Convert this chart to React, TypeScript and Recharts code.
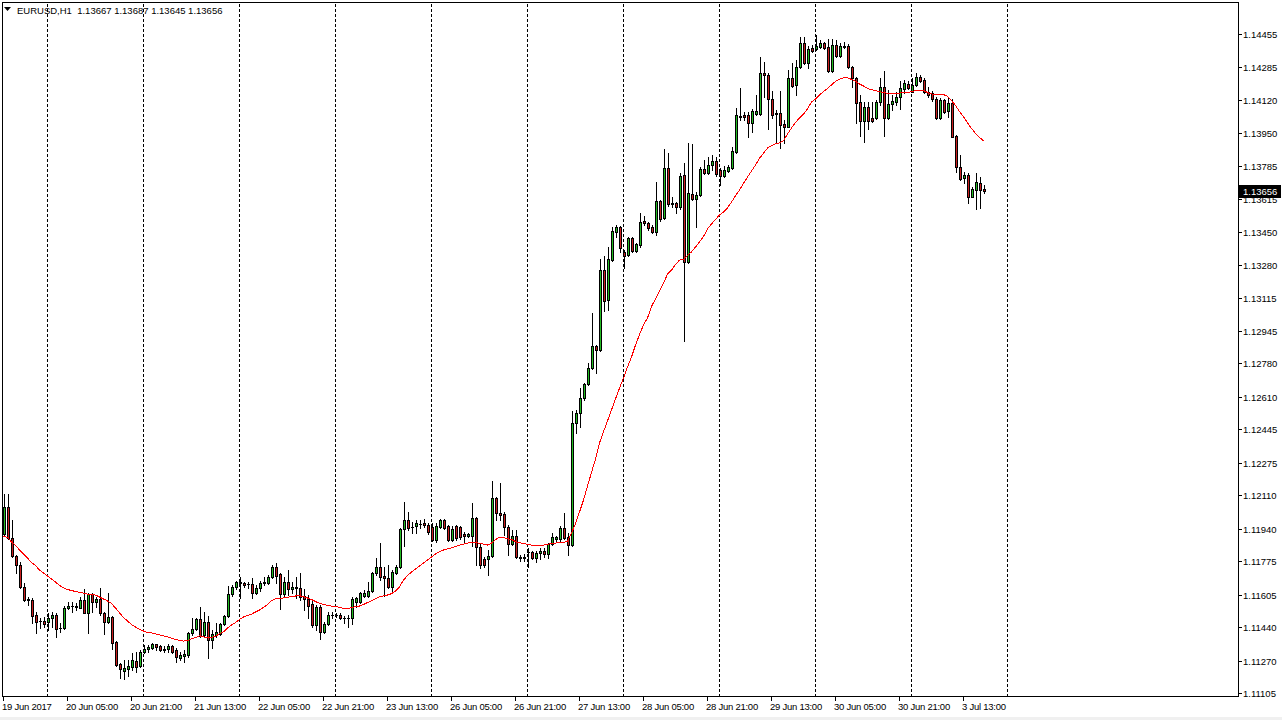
import React from 'react';
import { ComposedChart, Bar, Line, XAxis, YAxis, ReferenceLine } from 'recharts';

const FONT = "'Liberation Sans', Arial, sans-serif";
const GREEN = '#22bb22';
const RED = '#c81e1e';

const symbolTitle = 'EURUSD,H1';

const opens = [
  1.11913, 1.12050, 1.11893, 1.11801, 1.11756, 1.11644, 1.11583, 1.11578, 1.11501, 1.11471,
  1.11471, 1.11466, 1.11486, 1.11501, 1.11435, 1.11435, 1.11537, 1.11547, 1.11545, 1.11537,
  1.11578, 1.11512, 1.11608, 1.11568, 1.11583, 1.11512, 1.11466, 1.11491, 1.11364, 1.11252,
  1.11217, 1.11227, 1.11237, 1.11268, 1.11242, 1.11313, 1.11329, 1.11334, 1.11354, 1.11344,
  1.11324, 1.11329, 1.11344, 1.11324, 1.11283, 1.11293, 1.11298, 1.11410, 1.11430, 1.11481,
  1.11400, 1.11466, 1.11374, 1.11400, 1.11405, 1.11456, 1.11496, 1.11608, 1.11644, 1.11669,
  1.11664, 1.11659, 1.11659, 1.11613, 1.11639, 1.11664, 1.11664, 1.11695, 1.11746, 1.11710,
  1.11608, 1.11669, 1.11634, 1.11644, 1.11639, 1.11598, 1.11583, 1.11557, 1.11451, 1.11542,
  1.11415, 1.11456, 1.11501, 1.11499, 1.11501, 1.11486, 1.11484, 1.11486, 1.11568, 1.11568,
  1.11598, 1.11598, 1.11623, 1.11715, 1.11746, 1.11700, 1.11690, 1.11644, 1.11715, 1.11746,
  1.11939, 1.11984, 1.11949, 1.11954, 1.11964, 1.11969, 1.11959, 1.11949, 1.11883, 1.11949,
  1.11984, 1.11954, 1.11883, 1.11954, 1.11949, 1.11913, 1.11903, 1.11903, 1.11995, 1.11847,
  1.11786, 1.11786, 1.11801, 1.12096, 1.12020, 1.12015, 1.11949, 1.11862, 1.11903, 1.11796,
  1.11791, 1.11822, 1.11821, 1.11791, 1.11817, 1.11827, 1.11811, 1.11862, 1.11888, 1.11888,
  1.11944, 1.11898, 1.11857, 1.12478, 1.12528, 1.12605, 1.12676, 1.12757, 1.12869, 1.12849,
  1.13255, 1.13103, 1.13306, 1.13449, 1.13474, 1.13347, 1.13332, 1.13418, 1.13352, 1.13383,
  1.13504, 1.13494, 1.13474, 1.13449, 1.13606, 1.13520, 1.13774, 1.13596, 1.13596, 1.13576,
  1.13738, 1.13296, 1.13642, 1.13616, 1.13637, 1.13769, 1.13748, 1.13789, 1.13809, 1.13764,
  1.13733, 1.13759, 1.13774, 1.13855, 1.14038, 1.14043, 1.14043, 1.14003, 1.14048, 1.14048,
  1.14257, 1.14247, 1.14125, 1.14053, 1.14053, 1.13998, 1.13982, 1.14231, 1.14196, 1.14287,
  1.14409, 1.14308, 1.14384, 1.14379, 1.14389, 1.14409, 1.14389, 1.14267, 1.14399, 1.14343,
  1.14394, 1.14394, 1.14287, 1.14231, 1.14109, 1.14013, 1.14084, 1.14028, 1.14028, 1.14109,
  1.14186, 1.14028, 1.14099, 1.14109, 1.14135, 1.14175, 1.14201, 1.14160, 1.14196, 1.14236,
  1.14221, 1.14160, 1.14155, 1.14125, 1.14028, 1.14119, 1.14063, 1.14104, 1.13937, 1.13779,
  1.13723, 1.13738, 1.13626, 1.13662, 1.13698, 1.13667,
];

const highs = [
  1.12117, 1.12117, 1.11984, 1.11806, 1.11771, 1.11664, 1.11593, 1.11588, 1.11517, 1.11486,
  1.11491, 1.11512, 1.11517, 1.11512, 1.11461, 1.11547, 1.11568, 1.11568, 1.11562, 1.11593,
  1.11634, 1.11613, 1.11613, 1.11593, 1.11639, 1.11517, 1.11613, 1.11496, 1.11369, 1.11257,
  1.11273, 1.11273, 1.11308, 1.11313, 1.11324, 1.11349, 1.11349, 1.11359, 1.11356, 1.11349,
  1.11344, 1.11354, 1.11349, 1.11334, 1.11313, 1.11324, 1.11415, 1.11486, 1.11486, 1.11542,
  1.11517, 1.11496, 1.11425, 1.11461, 1.11461, 1.11501, 1.11649, 1.11654, 1.11674, 1.11695,
  1.11669, 1.11669, 1.11690, 1.11654, 1.11674, 1.11695, 1.11705, 1.11756, 1.11766, 1.11715,
  1.11695, 1.11730, 1.11669, 1.11695, 1.11715, 1.11634, 1.11603, 1.11578, 1.11552, 1.11552,
  1.11466, 1.11517, 1.11517, 1.11512, 1.11512, 1.11496, 1.11501, 1.11593, 1.11593, 1.11618,
  1.11628, 1.11669, 1.11718, 1.11791, 1.11868, 1.11746, 1.11756, 1.11730, 1.11756, 1.11944,
  1.12076, 1.12025, 1.11974, 1.11984, 1.11984, 1.11989, 1.11969, 1.11969, 1.11969, 1.11989,
  1.11989, 1.11959, 1.11954, 1.11959, 1.11952, 1.11923, 1.11918, 1.12071, 1.12000, 1.11868,
  1.11796, 1.11832, 1.12183, 1.12101, 1.12172, 1.12025, 1.11959, 1.11933, 1.11933, 1.11806,
  1.11811, 1.11842, 1.11827, 1.11827, 1.11842, 1.11842, 1.11868, 1.11918, 1.11903, 1.11954,
  1.12020, 1.11918, 1.12539, 1.12544, 1.12655, 1.12681, 1.12782, 1.13037, 1.12874, 1.13311,
  1.13327, 1.13372, 1.13474, 1.13484, 1.13477, 1.13357, 1.13423, 1.13423, 1.13393, 1.13545,
  1.13530, 1.13499, 1.13484, 1.13703, 1.13611, 1.13870, 1.13850, 1.13626, 1.13601, 1.13748,
  1.13799, 1.13901, 1.13896, 1.13652, 1.13779, 1.13815, 1.13830, 1.13840, 1.13830, 1.13774,
  1.13784, 1.13789, 1.13880, 1.14078, 1.14181, 1.14058, 1.14058, 1.14073, 1.14145, 1.14338,
  1.14313, 1.14257, 1.14165, 1.14069, 1.14165, 1.14018, 1.14272, 1.14308, 1.14323, 1.14440,
  1.14440, 1.14394, 1.14399, 1.14450, 1.14425, 1.14414, 1.14430, 1.14430, 1.14425, 1.14409,
  1.14414, 1.14404, 1.14292, 1.14236, 1.14145, 1.14109, 1.14109, 1.14109, 1.14119, 1.14231,
  1.14267, 1.14170, 1.14145, 1.14160, 1.14216, 1.14221, 1.14216, 1.14231, 1.14257, 1.14247,
  1.14231, 1.14186, 1.14165, 1.14135, 1.14130, 1.14125, 1.14130, 1.14125, 1.13942, 1.13840,
  1.13754, 1.13748, 1.13677, 1.13748, 1.13728, 1.13687,
];

const lows = [
  1.11903, 1.11888, 1.11796, 1.11715, 1.11639, 1.11573, 1.11552, 1.11461, 1.11410, 1.11435,
  1.11440, 1.11425, 1.11440, 1.11390, 1.11415, 1.11430, 1.11532, 1.11517, 1.11527, 1.11535,
  1.11510, 1.11410, 1.11517, 1.11542, 1.11501, 1.11405, 1.11463, 1.11329, 1.11242, 1.11181,
  1.11176, 1.11191, 1.11222, 1.11212, 1.11237, 1.11308, 1.11313, 1.11329, 1.11324, 1.11318,
  1.11313, 1.11313, 1.11308, 1.11263, 1.11273, 1.11263, 1.11288, 1.11400, 1.11425, 1.11390,
  1.11395, 1.11283, 1.11334, 1.11390, 1.11400, 1.11451, 1.11491, 1.11598, 1.11634, 1.11588,
  1.11644, 1.11639, 1.11588, 1.11608, 1.11623, 1.11654, 1.11659, 1.11690, 1.11664, 1.11532,
  1.11593, 1.11603, 1.11613, 1.11588, 1.11578, 1.11527, 1.11486, 1.11440, 1.11425, 1.11379,
  1.11410, 1.11451, 1.11486, 1.11491, 1.11481, 1.11461, 1.11440, 1.11456, 1.11542, 1.11562,
  1.11593, 1.11593, 1.11618, 1.11705, 1.11679, 1.11598, 1.11639, 1.11613, 1.11712, 1.11740,
  1.11852, 1.11934, 1.11918, 1.11918, 1.11944, 1.11949, 1.11913, 1.11878, 1.11872, 1.11944,
  1.11939, 1.11878, 1.11878, 1.11883, 1.11888, 1.11868, 1.11898, 1.11852, 1.11756, 1.11740,
  1.11746, 1.11705, 1.11796, 1.11984, 1.11984, 1.11908, 1.11806, 1.11857, 1.11791, 1.11776,
  1.11776, 1.11746, 1.11786, 1.11771, 1.11786, 1.11796, 1.11791, 1.11857, 1.11878, 1.11878,
  1.11888, 1.11806, 1.11852, 1.12427, 1.12457, 1.12594, 1.12671, 1.12752, 1.12732, 1.12844,
  1.13047, 1.13052, 1.13301, 1.13423, 1.13347, 1.13265, 1.13327, 1.13347, 1.13347, 1.13372,
  1.13484, 1.13459, 1.13444, 1.13433, 1.13504, 1.13514, 1.13581, 1.13576, 1.13545, 1.13565,
  1.12894, 1.13291, 1.13611, 1.13474, 1.13632, 1.13743, 1.13743, 1.13764, 1.13733, 1.13687,
  1.13728, 1.13754, 1.13769, 1.13850, 1.14018, 1.14018, 1.13932, 1.13957, 1.14043, 1.14043,
  1.14135, 1.13972, 1.14028, 1.13906, 1.13875, 1.13901, 1.13980, 1.14186, 1.14145, 1.14282,
  1.14303, 1.14282, 1.14364, 1.14374, 1.14384, 1.14379, 1.14262, 1.14262, 1.14338, 1.14338,
  1.14384, 1.14282, 1.14186, 1.14003, 1.13937, 1.13906, 1.13972, 1.14008, 1.14023, 1.14094,
  1.13937, 1.14023, 1.14069, 1.14094, 1.14074, 1.14155, 1.14175, 1.14160, 1.14191, 1.14211,
  1.14155, 1.14135, 1.14114, 1.14023, 1.14023, 1.14053, 1.14033, 1.13930, 1.13754, 1.13713,
  1.13698, 1.13596, 1.13624, 1.13565, 1.13570, 1.13645,
];

const closes = [
  1.12050, 1.11893, 1.11801, 1.11756, 1.11644, 1.11578, 1.11578, 1.11496, 1.11466, 1.11470,
  1.11456, 1.11486, 1.11501, 1.11430, 1.11433, 1.11537, 1.11547, 1.11545, 1.11542, 1.11578,
  1.11512, 1.11608, 1.11568, 1.11583, 1.11512, 1.11466, 1.11491, 1.11359, 1.11247, 1.11227,
  1.11232, 1.11242, 1.11273, 1.11237, 1.11313, 1.11329, 1.11339, 1.11354, 1.11339, 1.11324,
  1.11329, 1.11344, 1.11313, 1.11288, 1.11298, 1.11303, 1.11410, 1.11430, 1.11481, 1.11395,
  1.11466, 1.11374, 1.11405, 1.11415, 1.11456, 1.11496, 1.11608, 1.11644, 1.11669, 1.11664,
  1.11654, 1.11657, 1.11613, 1.11639, 1.11664, 1.11669, 1.11695, 1.11746, 1.11700, 1.11608,
  1.11669, 1.11634, 1.11644, 1.11639, 1.11593, 1.11583, 1.11547, 1.11451, 1.11542, 1.11415,
  1.11456, 1.11501, 1.11499, 1.11503, 1.11486, 1.11484, 1.11488, 1.11583, 1.11588, 1.11613,
  1.11613, 1.11623, 1.11715, 1.11746, 1.11695, 1.11690, 1.11644, 1.11720, 1.11746, 1.11939,
  1.11984, 1.11944, 1.11947, 1.11969, 1.11966, 1.11959, 1.11923, 1.11883, 1.11954, 1.11984,
  1.11944, 1.11883, 1.11939, 1.11893, 1.11898, 1.11903, 1.11913, 1.11995, 1.11847, 1.11756,
  1.11756, 1.11801, 1.12096, 1.12020, 1.12010, 1.11949, 1.11862, 1.11903, 1.11796, 1.11791,
  1.11796, 1.11821, 1.11791, 1.11817, 1.11827, 1.11811, 1.11862, 1.11898, 1.11898, 1.11944,
  1.11893, 1.11857, 1.12478, 1.12528, 1.12605, 1.12676, 1.12757, 1.12869, 1.12849, 1.13255,
  1.13098, 1.13311, 1.13454, 1.13474, 1.13367, 1.13327, 1.13418, 1.13352, 1.13388, 1.13499,
  1.13494, 1.13469, 1.13449, 1.13606, 1.13514, 1.13774, 1.13591, 1.13591, 1.13576, 1.13733,
  1.13296, 1.13647, 1.13616, 1.13637, 1.13769, 1.13748, 1.13789, 1.13809, 1.13743, 1.13733,
  1.13764, 1.13779, 1.13860, 1.14043, 1.14033, 1.14033, 1.14003, 1.14063, 1.14063, 1.14257,
  1.14247, 1.14125, 1.14043, 1.14048, 1.13992, 1.13982, 1.14231, 1.14191, 1.14287, 1.14409,
  1.14308, 1.14379, 1.14369, 1.14394, 1.14409, 1.14384, 1.14267, 1.14399, 1.14343, 1.14394,
  1.14389, 1.14287, 1.14231, 1.14104, 1.14013, 1.14084, 1.14013, 1.14013, 1.14109, 1.14186,
  1.14028, 1.14099, 1.14114, 1.14135, 1.14181, 1.14206, 1.14181, 1.14196, 1.14236, 1.14216,
  1.14160, 1.14145, 1.14125, 1.14028, 1.14119, 1.14058, 1.14104, 1.13932, 1.13779, 1.13718,
  1.13738, 1.13626, 1.13667, 1.13703, 1.13662, 1.13656,
];

const maValues = [
  1.11903, 1.11896, 1.11873, 1.11855, 1.11832, 1.11812, 1.11791, 1.11768, 1.11753, 1.11730,
  1.11715, 1.11700, 1.11684, 1.11669, 1.11652, 1.11639, 1.11631, 1.11626, 1.11621, 1.11617,
  1.11613, 1.11608, 1.11606, 1.11603, 1.11593, 1.11583, 1.11573, 1.11560, 1.11537, 1.11512,
  1.11489, 1.11471, 1.11453, 1.11440, 1.11428, 1.11420, 1.11413, 1.11410, 1.11405, 1.11400,
  1.11395, 1.11390, 1.11383, 1.11377, 1.11372, 1.11369, 1.11372, 1.11380, 1.11387, 1.11395,
  1.11390, 1.11388, 1.11388, 1.11393, 1.11407, 1.11416, 1.11435, 1.11451, 1.11463, 1.11479,
  1.11491, 1.11499, 1.11506, 1.11517, 1.11527, 1.11540, 1.11555, 1.11574, 1.11583, 1.11583,
  1.11588, 1.11591, 1.11596, 1.11598, 1.11599, 1.11595, 1.11588, 1.11580, 1.11570, 1.11561,
  1.11554, 1.11551, 1.11547, 1.11545, 1.11540, 1.11535, 1.11533, 1.11540, 1.11544, 1.11547,
  1.11555, 1.11565, 1.11574, 1.11585, 1.11594, 1.11599, 1.11603, 1.11610, 1.11623, 1.11644,
  1.11679, 1.11702, 1.11720, 1.11735, 1.11751, 1.11765, 1.11781, 1.11796, 1.11812, 1.11823,
  1.11832, 1.11837, 1.11843, 1.11850, 1.11857, 1.11862, 1.11867, 1.11869, 1.11869, 1.11866,
  1.11862, 1.11857, 1.11867, 1.11885, 1.11896, 1.11894, 1.11890, 1.11885, 1.11875, 1.11869,
  1.11864, 1.11861, 1.11857, 1.11857, 1.11857, 1.11857, 1.11860, 1.11865, 1.11867, 1.11869,
  1.11869, 1.11877, 1.11918, 1.11966, 1.12025, 1.12086, 1.12157, 1.12226, 1.12294, 1.12376,
  1.12433, 1.12488, 1.12544, 1.12600, 1.12655, 1.12706, 1.12762, 1.12813, 1.12874, 1.12927,
  1.12976, 1.13011, 1.13070, 1.13108, 1.13148, 1.13188, 1.13235, 1.13255, 1.13283, 1.13306,
  1.13310, 1.13329, 1.13347, 1.13372, 1.13398, 1.13425, 1.13464, 1.13489, 1.13512, 1.13535,
  1.13550, 1.13571, 1.13601, 1.13632, 1.13662, 1.13696, 1.13728, 1.13759, 1.13789, 1.13823,
  1.13849, 1.13875, 1.13888, 1.13896, 1.13902, 1.13913, 1.13947, 1.13977, 1.14005, 1.14028,
  1.14048, 1.14074, 1.14109, 1.14125, 1.14145, 1.14162, 1.14178, 1.14196, 1.14214, 1.14225,
  1.14233, 1.14233, 1.14224, 1.14214, 1.14201, 1.14191, 1.14178, 1.14172, 1.14167, 1.14162,
  1.14157, 1.14154, 1.14154, 1.14154, 1.14155, 1.14156, 1.14158, 1.14162, 1.14167, 1.14169,
  1.14167, 1.14158, 1.14150, 1.14149, 1.14147, 1.14147, 1.14138, 1.14117, 1.14092, 1.14061,
  1.14035, 1.14003, 1.13975, 1.13950, 1.13930, 1.13911,
];

const priceTicks = [
  1.14455, 1.14285, 1.1412, 1.1395, 1.13785, 1.13615, 1.1345, 1.1328, 1.13115, 1.12945,
  1.1278, 1.1261, 1.12445, 1.12275, 1.1211, 1.1194, 1.11775, 1.11605, 1.1144, 1.1127, 1.11105,
];

const timeTickBars = [0, 16, 32, 48, 64, 80, 96, 112, 128, 144, 160, 176, 192, 208, 224, 240];
const timeTickLabels = [
  '19 Jun 2017', '20 Jun 05:00', '20 Jun 21:00', '21 Jun 13:00', '22 Jun 05:00', '22 Jun 21:00',
  '23 Jun 13:00', '26 Jun 05:00', '26 Jun 21:00', '27 Jun 13:00', '28 Jun 05:00', '28 Jun 21:00',
  '29 Jun 13:00', '30 Jun 05:00', '30 Jun 21:00', '3 Jul 13:00',
];
const daySeparatorBars = [11, 35, 59, 83, 107, 131, 155, 179, 203, 227, 251];

const TOTAL_SLOTS = 309;
const Y_MIN = 1.110846;
const Y_MAX = 1.146177;

const rows = Array.from({ length: TOTAL_SLOTS }, (_, i) =>
  i < closes.length
    ? { i, o: opens[i], h: highs[i], l: lows[i], c: closes[i], ma: maValues[i] }
    : { i }
);

const candleRange = (d: any) => (d.h == null ? null : [d.l, d.h]);

const Candle = (props: any) => {
  const { x, y, width, height, payload } = props;
  if (!payload || payload.h == null || x == null) return null;
  const top = Math.min(y, y + height);
  const bottom = Math.max(y, y + height);
  const span = payload.h - payload.l;
  const toY = (v: number) => (span === 0 ? top : top + ((payload.h - v) / span) * (bottom - top));
  const cx = Math.floor(x + width / 2);
  const yh = Math.round(top);
  const yl = Math.round(bottom);
  const yo = Math.round(toY(payload.o));
  const yc = Math.round(toY(payload.c));
  const bt = Math.min(yo, yc);
  const bb = Math.max(yo, yc);
  const up = payload.c >= payload.o;
  return (
    <g>
      <rect x={cx} y={yh} width={1} height={yl - yh + 1} fill="#000" />
      <rect x={cx - 1} y={bt} width={3} height={bb - bt + 1} fill="#000" />
      {bb - bt >= 2 && (
        <rect x={cx} y={bt + 1} width={1} height={bb - bt - 1} fill={up ? GREEN : RED} />
      )}
    </g>
  );
};

const TimeTick = (props: any) => {
  const { x, y, payload } = props;
  const idx = timeTickBars.indexOf(payload.value);
  if (idx < 0) return null;
  const col = Math.floor(x);
  const ty = Math.round(y);
  return (
    <g>
      <rect x={col} y={ty} width={1} height={4} fill="#000" />
      <text x={col - 1} y={ty + 13} textAnchor="start" fontFamily={FONT} fontSize={9.5}
        letterSpacing={-0.25} fill="#000">
        {timeTickLabels[idx]}
      </text>
    </g>
  );
};

const PriceTick = (props: any) => {
  const { x, y, payload } = props;
  const col = Math.floor(x);
  const ry = Math.round(y);
  return (
    <g>
      <rect x={col + 2} y={ry} width={3} height={1} fill="#000" />
      <text x={col + 6} y={ry + 4} textAnchor="start" fontFamily={FONT} fontSize={9.5} fill="#000">
        {Number(payload.value).toFixed(5)}
      </text>
    </g>
  );
};

const PriceTag = (props: any) => {
  const vb = props.viewBox;
  if (!vb) return null;
  const ry = Math.round(vb.y);
  const right = Math.floor(vb.x + vb.width);
  return (
    <g>
      <rect x={right + 2} y={ry - 6} width={42} height={13} fill="#000" />
      <text x={right + 6} y={ry + 4} fontFamily={FONT} fontSize={9.5} fill="#fff">
        {closes[closes.length - 1].toFixed(5)}
      </text>
    </g>
  );
};

export default function App() {
  const last = closes.length - 1;
  const title = `${symbolTitle}  ${opens[last].toFixed(5)} ${highs[last].toFixed(5)} ${lows[last].toFixed(5)} ${closes[last].toFixed(5)}`;
  return (
    <div style={{ position: 'absolute', left: 0, top: 0, width: 1282, height: 720, background: '#fff', overflow: 'hidden' }}>
      <ComposedChart
        width={1282}
        height={720}
        data={rows}
        margin={{ top: 2, right: 0, bottom: 0, left: 1.5 }}
      >
        <XAxis
          dataKey="i"
          type="category"
          height={23}
          ticks={timeTickBars}
          interval={0}
          tickSize={0}
          tickMargin={0}
          axisLine={false}
          tickLine={false}
          tick={<TimeTick />}
        />
        <YAxis
          orientation="right"
          type="number"
          width={44.5}
          domain={[Y_MIN, Y_MAX]}
          allowDataOverflow
          ticks={priceTicks}
          interval={0}
          tickSize={0}
          tickMargin={0}
          axisLine={false}
          tickLine={false}
          tick={<PriceTick />}
        />
        {daySeparatorBars.map((d) => (
          <ReferenceLine key={d} x={d} stroke="#000" strokeWidth={1} strokeDasharray="3 2" />
        ))}
        <Bar dataKey={candleRange} barSize={3} shape={<Candle />} isAnimationActive={false} />
        <Line
          dataKey="ma"
          type="linear"
          stroke="#ff0000"
          strokeWidth={1}
          dot={false}
          activeDot={false}
          isAnimationActive={false}
          shapeRendering="crispEdges"
        />
        <ReferenceLine y={closes[last]} stroke="none" label={<PriceTag />} />
      </ComposedChart>
      <svg width={1282} height={720} style={{ position: 'absolute', left: 0, top: 0, pointerEvents: 'none' }}>
        <rect x={2.5} y={2.5} width={1236} height={694} fill="none" stroke="#000" strokeWidth={1} />
        <polygon points="4,7 11,7 7.5,11" fill="#000" />
        <text x={17} y={14} fontFamily={FONT} fontSize={9.5} fill="#000" style={{ whiteSpace: 'pre' }}>
          {title}
        </text>
        <rect x={0} y={717} width={1282} height={3} fill="#f0f0f0" />
      </svg>
    </div>
  );
}
